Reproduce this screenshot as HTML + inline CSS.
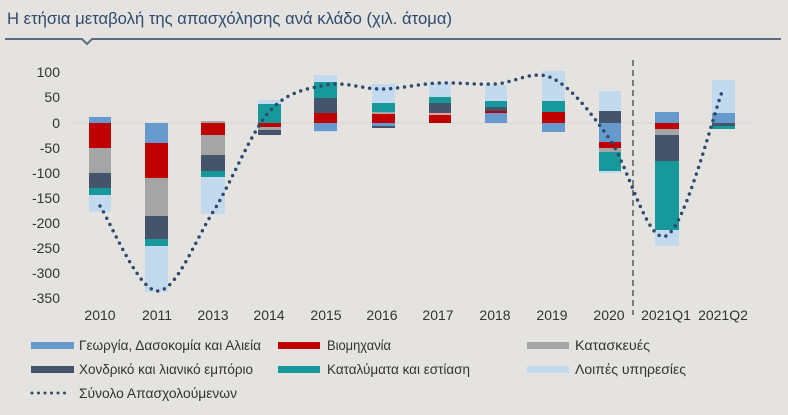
<!DOCTYPE html>
<html><head><meta charset="utf-8"><style>
html,body{margin:0;padding:0;background:#e5e3df;}
svg{display:block;font-family:"Liberation Sans",sans-serif;}
</style></head><body>
<svg width="788" height="415" viewBox="0 0 788 415" xmlns="http://www.w3.org/2000/svg">
<rect width="788" height="415" fill="#e5e3df"/>
<text x="7" y="24" font-size="17" fill="#2f4a6e" textLength="445" lengthAdjust="spacingAndGlyphs">Η ετήσια μεταβολή της απασχόλησης ανά κλάδο (χιλ. άτομα)</text>
<polyline points="5,39 82,39 87,44 92,39 781,39" fill="none" stroke="#5a6a85" stroke-width="2"/>
<g font-size="14" fill="#333" text-anchor="end">
<text x="60" y="77">100</text><text x="60" y="102">50</text><text x="60" y="128">0</text>
<text x="60" y="153">-50</text><text x="60" y="178">-100</text><text x="60" y="203">-150</text>
<text x="60" y="228">-200</text><text x="60" y="253">-250</text><text x="60" y="278">-300</text>
<text x="60" y="303">-350</text>
</g>
<line x1="72" y1="123" x2="752" y2="123" stroke="#d8d6d2" stroke-width="1"/>
<g>
<rect x="89" y="117" width="22" height="6" fill="#6699cc"/>
<rect x="89" y="123" width="22" height="25" fill="#c00000"/>
<rect x="89" y="148" width="22" height="25" fill="#a5a5a5"/>
<rect x="89" y="173" width="22" height="15" fill="#44546a"/>
<rect x="89" y="188" width="22" height="7" fill="#17989a"/>
<rect x="89" y="195" width="22" height="17" fill="#c3d9ee"/>
<rect x="145" y="123" width="23" height="20" fill="#6699cc"/>
<rect x="145" y="143" width="23" height="35" fill="#c00000"/>
<rect x="145" y="178" width="23" height="38" fill="#a5a5a5"/>
<rect x="145" y="216" width="23" height="23" fill="#44546a"/>
<rect x="145" y="239" width="23" height="7" fill="#17989a"/>
<rect x="145" y="246" width="23" height="46" fill="#c3d9ee"/>
<rect x="201" y="121" width="24" height="2" fill="#a5a5a5"/>
<rect x="201" y="123" width="24" height="12" fill="#c00000"/>
<rect x="201" y="135" width="24" height="20" fill="#a5a5a5"/>
<rect x="201" y="155" width="24" height="16" fill="#44546a"/>
<rect x="201" y="171" width="24" height="6" fill="#17989a"/>
<rect x="201" y="177" width="24" height="37" fill="#c3d9ee"/>
<rect x="258" y="100" width="23" height="4" fill="#c3d9ee"/>
<rect x="258" y="104" width="23" height="19" fill="#17989a"/>
<rect x="258" y="123" width="23" height="4" fill="#c00000"/>
<rect x="258" y="127" width="23" height="3" fill="#a5a5a5"/>
<rect x="258" y="130" width="23" height="5" fill="#44546a"/>
<rect x="314" y="75" width="23" height="7" fill="#c3d9ee"/>
<rect x="314" y="82" width="23" height="16" fill="#17989a"/>
<rect x="314" y="98" width="23" height="15" fill="#44546a"/>
<rect x="314" y="113" width="23" height="10" fill="#c00000"/>
<rect x="314" y="123" width="23" height="8" fill="#6699cc"/>
<rect x="314" y="131" width="23" height="1" fill="#c3d9ee"/>
<rect x="372" y="84" width="23" height="19" fill="#c3d9ee"/>
<rect x="372" y="103" width="23" height="9" fill="#17989a"/>
<rect x="372" y="112" width="23" height="2" fill="#a5a5a5"/>
<rect x="372" y="114" width="23" height="9" fill="#c00000"/>
<rect x="372" y="123" width="23" height="3" fill="#6699cc"/>
<rect x="372" y="126" width="23" height="2" fill="#44546a"/>
<rect x="429" y="83" width="22" height="14" fill="#c3d9ee"/>
<rect x="429" y="97" width="22" height="6" fill="#17989a"/>
<rect x="429" y="103" width="22" height="10" fill="#44546a"/>
<rect x="429" y="113" width="22" height="2" fill="#e0a0a0"/>
<rect x="429" y="115" width="22" height="8" fill="#c00000"/>
<rect x="485" y="85" width="22" height="16" fill="#c3d9ee"/>
<rect x="485" y="101" width="22" height="6" fill="#17989a"/>
<rect x="485" y="107" width="22" height="4" fill="#44546a"/>
<rect x="485" y="111" width="22" height="2" fill="#c00000"/>
<rect x="485" y="113" width="22" height="10" fill="#6699cc"/>
<rect x="542" y="71" width="23" height="30" fill="#c3d9ee"/>
<rect x="542" y="101" width="23" height="11" fill="#17989a"/>
<rect x="542" y="112" width="23" height="11" fill="#c00000"/>
<rect x="542" y="123" width="23" height="9" fill="#6699cc"/>
<rect x="599" y="91" width="22" height="20" fill="#c3d9ee"/>
<rect x="599" y="111" width="22" height="12" fill="#44546a"/>
<rect x="599" y="123" width="22" height="19" fill="#6699cc"/>
<rect x="599" y="142" width="22" height="6" fill="#c00000"/>
<rect x="599" y="148" width="22" height="4" fill="#a5a5a5"/>
<rect x="599" y="152" width="22" height="19" fill="#17989a"/>
<rect x="599" y="171" width="22" height="2" fill="#c3d9ee"/>
<rect x="655" y="112" width="24" height="11" fill="#6699cc"/>
<rect x="655" y="123" width="24" height="6" fill="#c00000"/>
<rect x="655" y="129" width="24" height="6" fill="#a5a5a5"/>
<rect x="655" y="135" width="24" height="26" fill="#44546a"/>
<rect x="655" y="161" width="24" height="69" fill="#17989a"/>
<rect x="655" y="230" width="24" height="16" fill="#c3d9ee"/>
<rect x="712" y="80" width="23" height="33" fill="#c3d9ee"/>
<rect x="712" y="113" width="23" height="10" fill="#6699cc"/>
<rect x="712" y="123" width="23" height="3" fill="#44546a"/>
<rect x="712" y="126" width="23" height="3" fill="#17989a"/>
</g>
<line x1="633" y1="60" x2="633" y2="315" stroke="#444" stroke-width="1.3" stroke-dasharray="6 4"/>
<path d="M100,206 C109.5,220 138,290 157,291 C175.8,292 194.3,241.8 213,212 C231.7,182.2 250.2,133.2 269,112 C287.8,90.8 307.2,88.8 326,85 C344.8,81.2 363.3,89.3 382,89 C400.7,88.7 419.2,83.8 438,83 C456.8,82.2 476,84.8 495,84 C514,83.2 533,69 552,78 C571,87 590,111.7 609,138 C628,164.3 647,244.2 666,236 C685,228.5 713.5,113.5 723,89" fill="none" stroke="#2f4a6e" stroke-width="3.5" stroke-linecap="round" stroke-dasharray="0 7"/>
<g font-size="14" fill="#333" text-anchor="middle">
<text x="100" y="320">2010</text><text x="157" y="320">2011</text><text x="213" y="320">2013</text>
<text x="269" y="320">2014</text><text x="326" y="320">2015</text><text x="382" y="320">2016</text>
<text x="438" y="320">2017</text><text x="495" y="320">2018</text><text x="552" y="320">2019</text>
<text x="609" y="320">2020</text><text x="666" y="320">2021Q1</text><text x="723" y="320">2021Q2</text>
</g>
<g>
<rect x="31" y="342" width="43" height="7" fill="#6699cc"/>
<rect x="278" y="342" width="42" height="7" fill="#c00000"/>
<rect x="527" y="342" width="42" height="7" fill="#a5a5a5"/>
<rect x="31" y="366" width="43" height="7" fill="#44546a"/>
<rect x="278" y="366" width="42" height="7" fill="#17989a"/>
<rect x="527" y="366" width="42" height="7" fill="#c3d9ee"/>
<line x1="32" y1="393" x2="68" y2="393" stroke="#2f4a6e" stroke-width="3" stroke-linecap="round" stroke-dasharray="0 6.5"/>
</g>
<g font-size="14" fill="#333">
<text x="79" y="350" textLength="182" lengthAdjust="spacingAndGlyphs">Γεωργία, Δασοκομία και Αλιεία</text>
<text x="327" y="350" textLength="64" lengthAdjust="spacingAndGlyphs">Βιομηχανία</text>
<text x="575" y="350" textLength="75" lengthAdjust="spacingAndGlyphs">Κατασκευές</text>
<text x="79" y="374" textLength="174" lengthAdjust="spacingAndGlyphs">Χονδρικό και λιανικό εμπόριο</text>
<text x="327" y="374" textLength="143" lengthAdjust="spacingAndGlyphs">Καταλύματα και εστίαση</text>
<text x="575" y="374" textLength="111" lengthAdjust="spacingAndGlyphs">Λοιπές υπηρεσίες</text>
<text x="79" y="398" textLength="158" lengthAdjust="spacingAndGlyphs">Σύνολο Απασχολούμενων</text>
</g>
</svg>
</body></html>
